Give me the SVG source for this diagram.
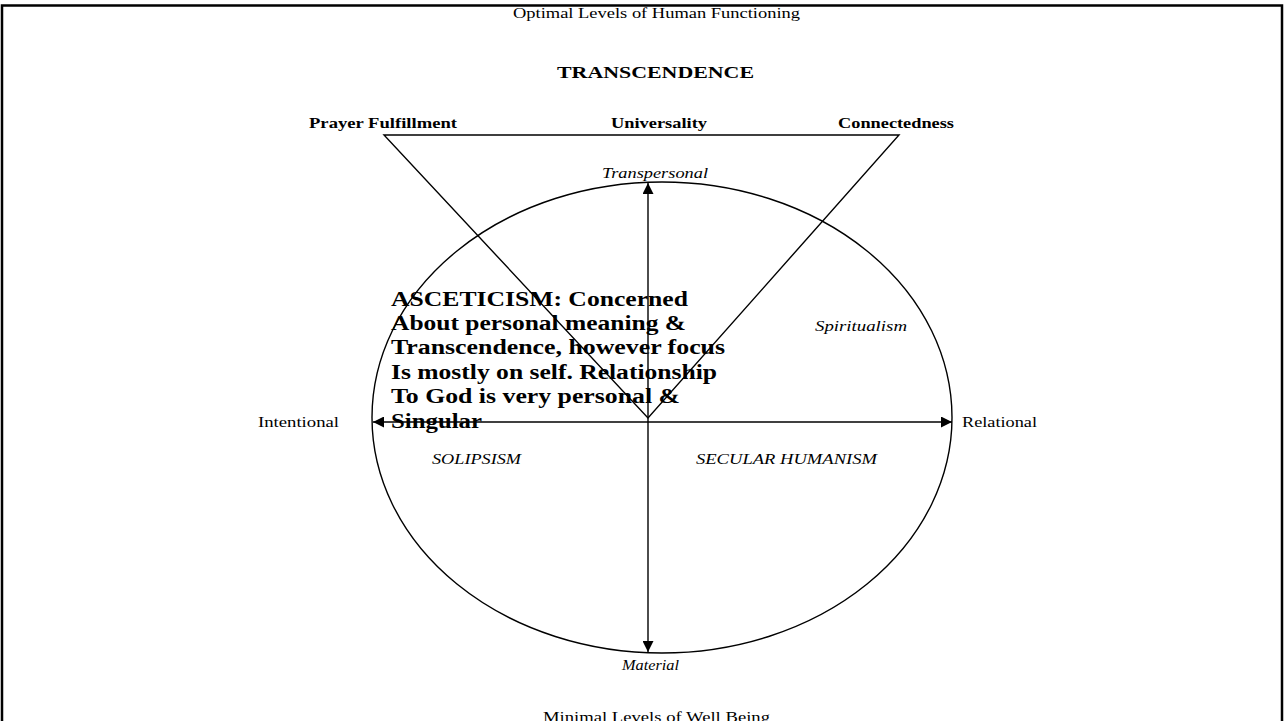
<svg xmlns="http://www.w3.org/2000/svg" width="1285" height="721" viewBox="0 0 1285 721">
<style>
text{font-family:"Liberation Serif","Times New Roman",serif;fill:#000}
.n{font-size:14px}
.b{font-size:15px;font-weight:bold}
.i{font-size:14px;font-style:italic}
.big{font-size:20px;font-weight:bold}
.ln{stroke:#000;stroke-width:1.4;fill:none}
</style>
<defs>
<marker id="ah" viewBox="0 0 10 10" refX="10" refY="5" markerWidth="11" markerHeight="11" markerUnits="userSpaceOnUse" orient="auto-start-reverse">
<path d="M0,0 L10,5 L0,10 Z" fill="#000"/>
</marker>
</defs>
<rect width="1285" height="721" fill="#fff"/>
<path d="M2,730 V5.5 H1282 V730" fill="none" stroke="#000" stroke-width="2.5"/>
<g id="titles">
<text class="n" x="513" y="18" textLength="287" lengthAdjust="spacingAndGlyphs">Optimal Levels of Human Functioning</text>
<text x="557" y="78" style="font-size:17px;font-weight:bold" textLength="197" lengthAdjust="spacingAndGlyphs">TRANSCENDENCE</text>
<text class="n" x="543" y="722" textLength="227" lengthAdjust="spacingAndGlyphs">Minimal Levels of Well Being</text>
</g>
<g id="triangle">
<path class="ln" d="M384,135 H899 L648,418 Z"/>
<text class="b" x="309" y="128" textLength="148" lengthAdjust="spacingAndGlyphs">Prayer Fulfillment</text>
<text class="b" x="611" y="128" textLength="96" lengthAdjust="spacingAndGlyphs">Universality</text>
<text class="b" x="838" y="128" textLength="116" lengthAdjust="spacingAndGlyphs">Connectedness</text>
</g>
<g id="ellipse">
<ellipse class="ln" cx="662" cy="417.5" rx="290" ry="235.5"/>
</g>
<g id="connectors">
<line class="ln" x1="648" y1="422" x2="648" y2="183" marker-end="url(#ah)"/>
<line class="ln" x1="648" y1="422" x2="648" y2="652" marker-end="url(#ah)"/>
<line class="ln" x1="648" y1="422" x2="373" y2="422" marker-end="url(#ah)"/>
<line class="ln" x1="648" y1="422" x2="952" y2="422" marker-end="url(#ah)"/>
</g>
<g id="axis-labels">
<text class="i" x="602" y="178" textLength="106" lengthAdjust="spacingAndGlyphs">Transpersonal</text>
<text class="i" x="622" y="670" textLength="57" lengthAdjust="spacingAndGlyphs">Material</text>
<text class="n" x="258" y="427" textLength="81" lengthAdjust="spacingAndGlyphs">Intentional</text>
<text class="n" x="962" y="427" textLength="75" lengthAdjust="spacingAndGlyphs">Relational</text>
</g>
<g id="quadrants">
<text class="i" x="815" y="331" textLength="92" lengthAdjust="spacingAndGlyphs">Spiritualism</text>
<text class="i" x="432" y="464" textLength="89" lengthAdjust="spacingAndGlyphs">SOLIPSISM</text>
<text class="i" x="696" y="464" textLength="181" lengthAdjust="spacingAndGlyphs">SECULAR HUMANISM</text>
</g>
<g id="asceticism">
<text class="big" x="391" y="306" textLength="297" lengthAdjust="spacingAndGlyphs">ASCETICISM: Concerned</text>
<text class="big" x="391" y="330" textLength="295" lengthAdjust="spacingAndGlyphs">About personal meaning &amp;</text>
<text class="big" x="391" y="354" textLength="334" lengthAdjust="spacingAndGlyphs">Transcendence, however focus</text>
<text class="big" x="391" y="379" textLength="326" lengthAdjust="spacingAndGlyphs">Is mostly on self. Relationship</text>
<text class="big" x="391" y="403" textLength="289" lengthAdjust="spacingAndGlyphs">To God is very personal &amp;</text>
<text class="big" x="391" y="428" textLength="91" lengthAdjust="spacingAndGlyphs">Singular</text>
</g>
</svg>
